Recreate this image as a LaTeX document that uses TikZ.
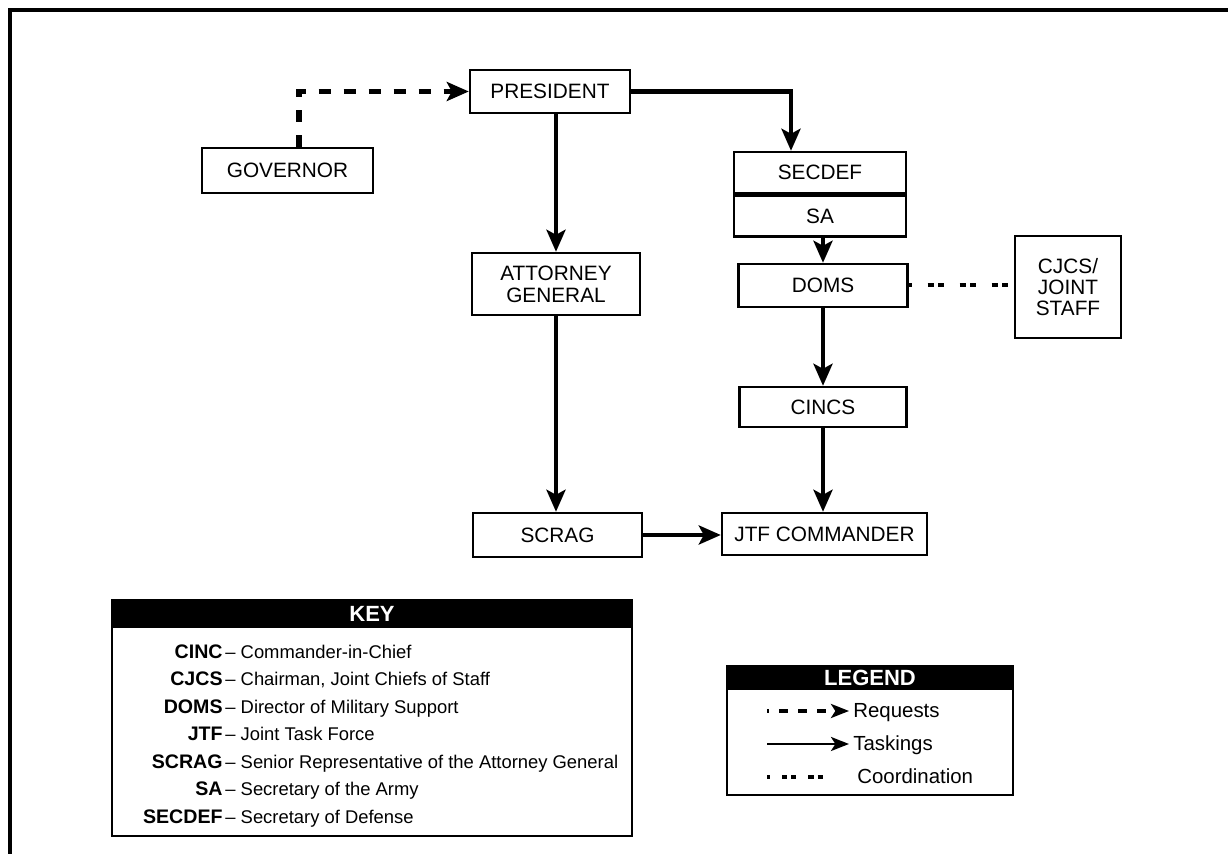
\documentclass[tikz,border=0pt]{standalone}
\usepackage{fontspec}
\setmainfont{Liberation Sans}
\usetikzlibrary{arrows.meta}

\tikzset{
  caja/.style={draw, line width=1.2pt, inner sep=0pt, align=center, font=\fontsize{10.4}{10.6}\selectfont},
  tasking/.style={line width=2.2pt, -{Stealth[length=11pt,width=9.5pt,inset=2.5pt]}},
  request/.style={tasking, line width=2.8pt, dash pattern=on 6pt off 6.5pt},
  coordination/.style={line width=2pt, dash pattern=on 3pt off 2.2pt on 3pt off 7.8pt, dash phase=6.5pt},
  header/.style={text=white, inner sep=0pt, font=\fontsize{11}{12}\selectfont\bfseries},
  keyab/.style={anchor=base east, inner sep=0pt, font=\fontsize{9.8}{11}\selectfont\bfseries},
  keytx/.style={anchor=base west, inner sep=0pt, font=\fontsize{9.2}{11}\selectfont},
  legtx/.style={anchor=base west, inner sep=0pt, font=\fontsize{10.2}{12}\selectfont},
  lgtasking/.style={line width=1.3pt, -{Stealth[length=9pt,width=7pt,inset=2.2pt]}},
  lgrequest/.style={lgtasking, line width=1.8pt, dash pattern=on 4.5pt off 5pt, dash phase=3.5pt},
  lgcoordination/.style={line width=1.8pt, dash pattern=on 2.6pt off 2pt on 2.6pt off 6pt, dash phase=5.7pt}
}

\begin{document}
\begin{tikzpicture}[x=0.5pt, y=-0.5pt] % coordenadas en pixeles
    \useasboundingbox (0,0) rectangle (1228,854);

    % Marco
    \draw[line width=2.2pt] (10,854) -- (10,10) -- (1228,10);

    % Cajas
    \node[caja, minimum width=80pt, minimum height=21.5pt] (president) at (550,91.5) {PRESIDENT};
    \node[caja, minimum width=85.5pt, minimum height=22.5pt] (governor) at (287.5,170.5) {GOVERNOR};
    \node[caja, minimum width=86pt, minimum height=20.5pt] (secdef) at (820,172.5) {SECDEF};
    \node[caja, minimum width=86pt, minimum height=20.5pt, anchor=north] (sa) at (secdef.south) {SA};
    \node[caja, minimum width=84.5pt, minimum height=21.5pt] (doms) at (823,285.5) {DOMS};
    \node[caja, minimum width=53pt, minimum height=51pt] (cjcs) at (1068,287) {CJCS/\\JOINT\\STAFF};
    \node[caja, minimum width=84pt, minimum height=31pt, font=\fontsize{10.4}{11}\selectfont] (attorney) at (556,284) {ATTORNEY\\GENERAL};
    \node[caja, minimum width=83.5pt, minimum height=20pt] (cincs) at (823,407) {CINCS};
    \node[caja, minimum width=84.5pt, minimum height=22pt] (scrag) at (557.5,535) {SCRAG};
    \node[caja, minimum width=102.5pt, minimum height=21pt] (jtf) at (824.5,534) {JTF COMMANDER};

    % Conectores
    \draw[request] ([xshift=5.75pt]governor.north) |- (president.west);
    \draw[tasking] (president.east) -| ([xshift=-14.5pt]secdef.north);
    \draw[tasking] (president.south -| attorney.north) -- (attorney.north);
    \draw[tasking] (sa.south -| doms.north) -- (doms.north);
    \draw[coordination] (doms.east) -- (doms.east -| cjcs.west);
    \draw[tasking] (doms.south) -- (cincs.north);
    \draw[tasking] (cincs.south) -- (cincs.south |- jtf.north);
    \draw[tasking] (attorney.south) -- (attorney.south |- scrag.north);
    \draw[tasking] (scrag.east) -- (scrag.east -| jtf.west);

    % Clave
    \draw[line width=1.2pt] (112,600) rectangle (632,836);
    \fill (112,600) rectangle (632,628);
    \node[header] (keyhead) at (372,614) {KEY};
    \node[keyab] (kcinc) at (223,658.5) {CINC};
    \node[keytx] at (225,658.5) {-- Commander-in-Chief};
    \node[keyab] (kcjcs) at (223,686) {CJCS};
    \node[keytx] at (225,686) {-- Chairman, Joint Chiefs of Staff};
    \node[keyab] (kdoms) at (223,713.5) {DOMS};
    \node[keytx] at (225,713.5) {-- Director of Military Support};
    \node[keyab] (kjtf) at (223,741) {JTF};
    \node[keytx] at (225,741) {-- Joint Task Force};
    \node[keyab] (kscrag) at (223,768.5) {SCRAG};
    \node[keytx] at (225,768.5) {-- Senior Representative of the Attorney General};
    \node[keyab] (ksa) at (223,796) {SA};
    \node[keytx] at (225,796) {-- Secretary of the Army};
    \node[keyab] (ksecdef) at (223,823.5) {SECDEF};
    \node[keytx] at (225,823.5) {-- Secretary of Defense};

    % Leyenda
    \draw[line width=1.2pt] (727,666) rectangle (1013,795);
    \fill (727,666) rectangle (1013,690);
    \node[header] (leghead) at (870,678) {LEGEND};
    \coordinate (lreqa) at (767,711);
    \coordinate (lreqb) at (849,711);
    \draw[lgrequest] (lreqa) -- (lreqb);
    \node[legtx] (treq) at (853,718) {Requests};
    \coordinate (ltaska) at (767,744);
    \coordinate (ltaskb) at (849,744);
    \draw[lgtasking] (ltaska) -- (ltaskb);
    \node[legtx] (ttask) at (853,751) {Taskings};
    \coordinate (lcooa) at (767,777);
    \coordinate (lcoob) at (832,777);
    \draw[lgcoordination] (lcooa) -- (lcoob);
    \node[legtx] (tcoo) at (857,784) {Coordination};
\end{tikzpicture}
\end{document}
